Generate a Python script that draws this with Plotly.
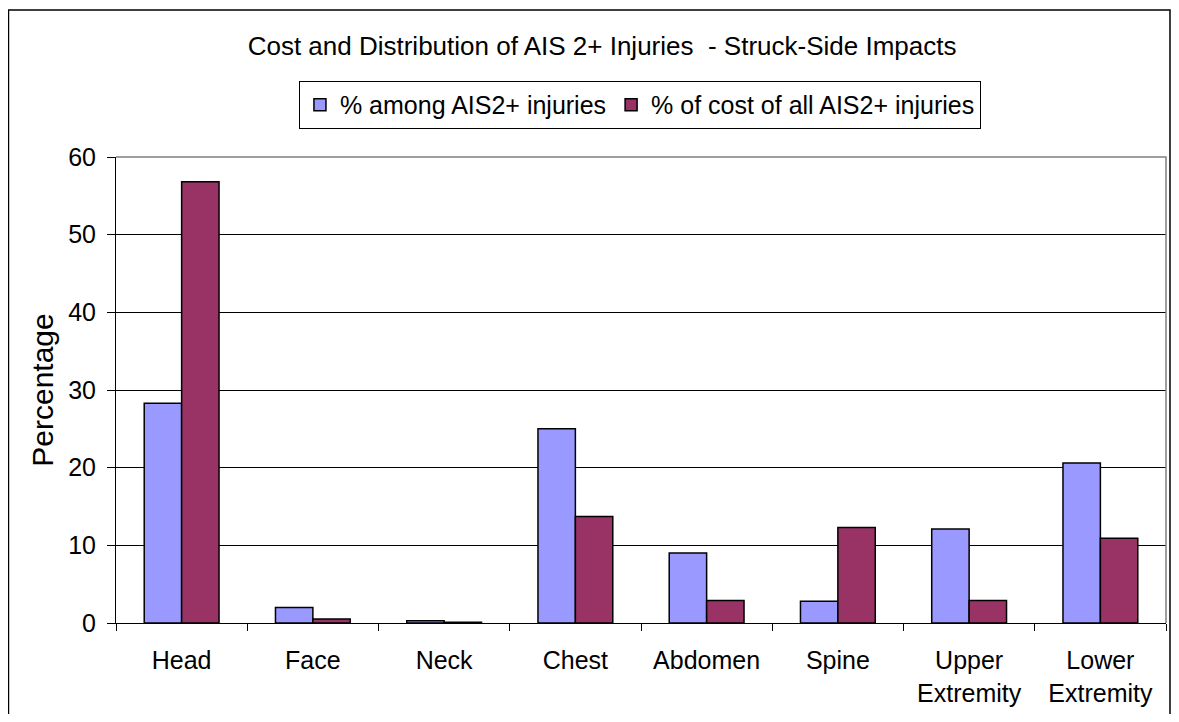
import plotly.graph_objects as go

categories = ["Head", "Face", "Neck", "Chest", "Abdomen", "Spine",
              "Upper<br>Extremity", "Lower<br>Extremity"]
share_of_injuries = [28.3, 2.0, 0.3, 25.0, 9.0, 2.8, 12.1, 20.6]
share_of_cost = [56.8, 0.5, 0.1, 13.7, 2.9, 12.3, 2.9, 10.9]
y_ticks = [0, 10, 20, 30, 40, 50, 60]

font_family = "Liberation Sans, Arial, sans-serif"
blue = "#9999FF"
plum = "#993366"

fig = go.Figure()
fig.add_trace(go.Bar(
    x=categories, y=share_of_injuries, name="% among AIS2+ injuries",
    marker=dict(color=blue, line=dict(color="black", width=1.5)),
))
fig.add_trace(go.Bar(
    x=categories, y=share_of_cost, name="% of cost of all AIS2+ injuries",
    marker=dict(color=plum, line=dict(color="black", width=1.5)),
))

# chart border, plus grey top/right edge of the plot area (Excel look)
fig.add_shape(type="rect", xref="paper", yref="paper",
              x0=-0.1024, x1=1.0038, y0=-0.25, y1=1.3155,
              line=dict(color="black", width=1.5), layer="below")
fig.add_shape(type="path", xref="paper", yref="paper",
              path="M 0 1 L 1 1 L 1 0",
              line=dict(color="#808080", width=1.5), layer="above")

# page body adds an 8px margin, so the figure is 16px smaller than the window
fig.update_layout(
    width=1163, height=706,
    margin=dict(l=108, r=5, t=149, b=91),
    paper_bgcolor="white", plot_bgcolor="white",
    font=dict(family=font_family, size=25, color="black"),
    barmode="group", bargap=0.43, bargroupgap=0,
    title=dict(text="Cost and Distribution of AIS 2+ Injuries \u00a0- Struck-Side Impacts",
               x=0.5108, xanchor="center", y=0.947, yanchor="middle",
               font=dict(size=26)),
    legend=dict(orientation="h", x=0.499, xanchor="center", y=1.1116, yanchor="middle",
                bordercolor="black", borderwidth=1, font=dict(size=25),
                bgcolor="white"),
    xaxis=dict(
        showline=True, linecolor="black", linewidth=1,
        ticks="outside", ticklen=7, tickcolor="black", tickson="boundaries",
        ticklabelstandoff=15, showgrid=False,
    ),
    yaxis=dict(
        range=[0, 60], tickvals=y_ticks,
        showline=True, linecolor="black", linewidth=1,
        ticks="outside", ticklen=8, tickcolor="black", ticklabelstandoff=6,
        showgrid=True, gridcolor="black", gridwidth=1, zeroline=False,
        title=dict(text="Percentage", standoff=5),
    ),
)

fig.write_html("out.html")
